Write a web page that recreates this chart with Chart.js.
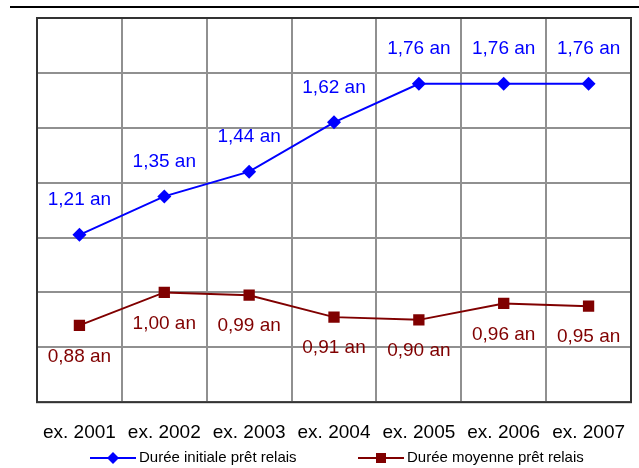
<!DOCTYPE html>
<html>
<head>
<meta charset="utf-8">
<script src="https://cdn.jsdelivr.net/npm/chart.js@4.4.1/dist/chart.umd.min.js"></script>
<style>
  html, body { margin: 0; padding: 0; background: #fff; }
  #wrap { width: 639px; height: 468px; position: relative; }
</style>
</head>
<body>
<div id="wrap"><canvas id="relaisChart"></canvas></div>
<script>
const years = ['ex. 2001', 'ex. 2002', 'ex. 2003', 'ex. 2004', 'ex. 2005', 'ex. 2006', 'ex. 2007'];
const dureeInitiale = [1.21, 1.35, 1.44, 1.62, 1.76, 1.76, 1.76];
const dureeMoyenne = [0.88, 1.00, 0.99, 0.91, 0.90, 0.96, 0.95];
const serieNames = ['Durée initiale prêt relais', 'Durée moyenne prêt relais'];

const BLUE = '#0000FF';
const DARKRED = '#800000';
const FONT = '"Liberation Sans", Arial, sans-serif';

function fmtAn(v) {
  return v.toFixed(2).replace('.', ',') + ' an';
}

// value labels, the frame, the rule on top and the legend
const decorPlugin = {
  id: 'decor',
  afterDraw(chart) {
    const ctx = chart.ctx;
    const a = chart.chartArea;
    ctx.save();

    // rule across the top
    ctx.fillStyle = '#000';
    ctx.fillRect(10, 6, 629, 2);

    // plot frame
    ctx.strokeStyle = '#333';
    ctx.lineWidth = 2;
    ctx.strokeRect(a.left, a.top, a.right - a.left, a.bottom - a.top);

    // value labels
    ctx.font = '19px ' + FONT;
    ctx.textAlign = 'center';
    ctx.textBaseline = 'middle';
    chart.data.datasets.forEach((ds, di) => {
      const meta = chart.getDatasetMeta(di);
      meta.data.forEach((pt, i) => {
        ctx.fillStyle = ds.borderColor;
        const dy = di === 0 ? -35 : 31;
        ctx.fillText(fmtAn(ds.data[i]), pt.x, pt.y + dy);
      });
    });

    // legend
    const ly = 458;
    ctx.font = '15px ' + FONT;
    ctx.textAlign = 'left';
    const items = [
      { x: 90, color: BLUE, shape: 'diamond', text: serieNames[0] },
      { x: 358, color: DARKRED, shape: 'square', text: serieNames[1] }
    ];
    items.forEach(it => {
      ctx.strokeStyle = it.color;
      ctx.lineWidth = 2;
      ctx.beginPath();
      ctx.moveTo(it.x, ly);
      ctx.lineTo(it.x + 46, ly);
      ctx.stroke();
      ctx.fillStyle = it.color;
      const cx = it.x + 23;
      if (it.shape === 'diamond') {
        ctx.beginPath();
        ctx.moveTo(cx, ly - 6);
        ctx.lineTo(cx + 6, ly);
        ctx.lineTo(cx, ly + 6);
        ctx.lineTo(cx - 6, ly);
        ctx.closePath();
        ctx.fill();
      } else {
        ctx.fillRect(cx - 5, ly - 5, 10, 10);
      }
      ctx.fillStyle = '#000';
      ctx.fillText(it.text, it.x + 49, ly);
    });

    ctx.restore();
  }
};

new Chart(document.getElementById('relaisChart').getContext('2d'), {
  type: 'line',
  data: {
    labels: years,
    datasets: [{
      label: serieNames[0],
      data: dureeInitiale,
      borderColor: BLUE,
      backgroundColor: BLUE,
      borderWidth: 2,
      pointStyle: 'rectRot',
      pointRadius: 7,
      pointHoverRadius: 7,
      pointBorderWidth: 0,
      tension: 0
    }, {
      label: serieNames[1],
      data: dureeMoyenne,
      borderColor: DARKRED,
      backgroundColor: DARKRED,
      borderWidth: 2,
      pointStyle: 'rect',
      pointRadius: 8,
      pointHoverRadius: 8,
      pointBorderWidth: 0,
      tension: 0
    }]
  },
  options: {
    responsive: true,
    maintainAspectRatio: false,
    animation: false,
    layout: { padding: { left: 37, right: 1, top: 18, bottom: 20 } },
    scales: {
      x: {
        offset: true,
        // labels sit inside their categories, no side padding needed
        afterFit: function (scale) {
          scale.paddingLeft = 0;
          scale.paddingRight = 0;
        },
        grid: {
          offset: true,
          color: '#909090',
          lineWidth: 2,
          drawTicks: true,
          tickLength: 15,
          tickColor: 'rgba(0,0,0,0)'
        },
        border: { display: false },
        ticks: { color: '#000', font: { family: FONT, size: 19 }, padding: 4, maxRotation: 0 }
      },
      y: {
        min: 0.6,
        max: 2.0,
        grid: { color: '#909090', lineWidth: 2, drawTicks: false },
        border: { display: false },
        ticks: { display: false, stepSize: 0.2 }
      }
    },
    plugins: {
      legend: { display: false },
      tooltip: { enabled: false }
    }
  },
  plugins: [decorPlugin]
});
</script>
</body>
</html>
